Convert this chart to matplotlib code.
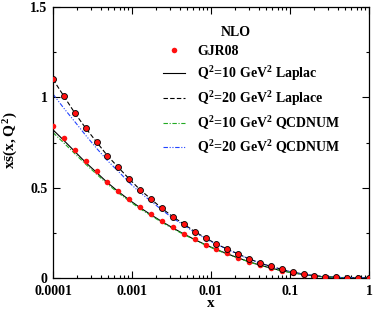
import matplotlib
matplotlib.use("Agg")
import matplotlib.pyplot as plt
from matplotlib.ticker import LogLocator, NullFormatter, MultipleLocator

plt.rcParams['font.family'] = 'Liberation Serif'
plt.rcParams['font.weight'] = 'bold'
plt.rcParams['mathtext.fontset'] = 'custom'
plt.rcParams['mathtext.rm'] = 'Liberation Serif:bold'
plt.rcParams['mathtext.it'] = 'Liberation Serif:bold'
plt.rcParams['mathtext.bf'] = 'Liberation Serif:bold'

x = [1.0e-4, 1.37e-4, 1.89e-4, 2.59e-4, 3.56e-4, 4.89e-4, 6.72e-4, 9.24e-4,
     1.27e-3, 1.74e-3, 2.40e-3, 3.29e-3, 4.52e-3, 6.21e-3, 8.53e-3, 1.17e-2,
     1.61e-2, 2.21e-2, 3.04e-2, 4.18e-2, 5.74e-2, 7.88e-2, 0.108, 0.149,
     0.204, 0.281, 0.386, 0.530, 0.728, 1.0]

gjr08_q20 = [1.100, 1.007, 0.913, 0.830, 0.753, 0.675, 0.612, 0.548, 0.487, 0.437,
             0.385, 0.338, 0.299, 0.256, 0.221, 0.188, 0.160, 0.133, 0.105, 0.083,
             0.064, 0.048, 0.033, 0.021, 0.013, 0.007, 0.004, 0.002, 0.001, 0.000]
gjr08_q10 = [0.841, 0.775, 0.708, 0.648, 0.590, 0.531, 0.482, 0.437, 0.393, 0.354,
             0.315, 0.280, 0.246, 0.216, 0.185, 0.160, 0.138, 0.112, 0.090, 0.072,
             0.055, 0.040, 0.030, 0.019, 0.012, 0.006, 0.003, 0.001, 0.000, 0.000]

laplace_q10 = [0.820, 0.762, 0.700, 0.640, 0.584, 0.528, 0.478, 0.432, 0.389, 0.350,
               0.312, 0.277, 0.244, 0.213, 0.184, 0.158, 0.134, 0.111, 0.090, 0.071,
               0.055, 0.040, 0.029, 0.019, 0.011, 0.006, 0.003, 0.001, 0.000, 0.000]
laplace_q20 = [1.100, 1.007, 0.913, 0.830, 0.753, 0.677, 0.612, 0.548, 0.488, 0.437,
               0.385, 0.339, 0.299, 0.257, 0.222, 0.188, 0.160, 0.133, 0.106, 0.083,
               0.064, 0.048, 0.033, 0.021, 0.013, 0.007, 0.004, 0.002, 0.001, 0.000]
qcdnum_q10 = [0.805, 0.748, 0.688, 0.630, 0.575, 0.520, 0.471, 0.426, 0.383, 0.345,
              0.308, 0.273, 0.241, 0.211, 0.182, 0.156, 0.132, 0.110, 0.089, 0.070,
              0.054, 0.040, 0.028, 0.019, 0.011, 0.006, 0.003, 0.001, 0.000, 0.000]
qcdnum_q20 = [1.018, 0.940, 0.865, 0.790, 0.718, 0.650, 0.590, 0.528, 0.472, 0.425,
              0.376, 0.331, 0.293, 0.252, 0.218, 0.186, 0.158, 0.131, 0.104, 0.082,
              0.063, 0.047, 0.033, 0.021, 0.013, 0.007, 0.004, 0.002, 0.001, 0.000]

xticks = [1e-4, 1e-3, 1e-2, 1e-1, 1]
xtick_labels = ["0.0001", "0.001", "0.01", "0.1", "1"]
yticks = [0, 0.5, 1, 1.5]
ytick_labels = ["0", "0.5", "1", "1.5"]

fig = plt.figure(figsize=(3.74, 3.09), dpi=100)
ax = fig.add_axes([0.1417, 0.1003, 0.845, 0.877])

ax.plot(x, laplace_q10, color='black', lw=0.8, ls='-',
        label=r"$Q^2$=10 GeV$^2$ Laplac")
ax.plot(x, laplace_q20, color='black', lw=0.8, ls=(0, (4, 2)),
        label=r"$Q^2$=20 GeV$^2$ Laplace")
ax.plot(x, qcdnum_q10, color='#22aa22', lw=0.8, ls=(0, (4, 1.5, 1, 1.5)),
        label=r"$Q^2$=10 GeV$^2$ QCDNUM")
ax.plot(x, qcdnum_q20, color='#2244ff', lw=0.8, ls=(0, (4, 1.5, 1, 1.5, 1, 1.5)),
        label=r"$Q^2$=20 GeV$^2$ QCDNUM")
ax.plot(x, gjr08_q10, ls='none', marker='o', ms=4, color='#ff1010',
        mec='#ff1010', mew=0, label='GJR08', zorder=5)
ax.plot(x, gjr08_q20, ls='none', marker='o', ms=4.3, color='#ff1010',
        mec='black', mew=0.6, zorder=5)

ax.set_xscale('log')
ax.set_xlim(1e-4, 1)
ax.set_ylim(0, 1.5)
ax.set_xticks(xticks)
ax.set_xticklabels(xtick_labels)
ax.xaxis.set_minor_locator(LogLocator(base=10, subs=range(2, 10), numticks=20))
ax.xaxis.set_minor_formatter(NullFormatter())
ax.set_yticks(yticks)
ax.set_yticklabels(ytick_labels)
ax.yaxis.set_minor_locator(MultipleLocator(0.25))

ax.tick_params(which='both', direction='in', top=True, right=True,
               labelsize=10, width=0.8)
ax.tick_params(which='major', length=5)
ax.tick_params(axis='x', which='major', pad=5)
ax.tick_params(axis='y', which='major', pad=4)
ax.tick_params(which='minor', length=2.5)
for s in ax.spines.values():
    s.set_linewidth(0.9)

ax.set_xlabel('x', fontsize=11, fontweight='bold')
ax.xaxis.set_label_coords(0.5, -0.07)
ax.set_ylabel(r"$x\bar{s}(x,Q^2)$", fontsize=11)
ax.yaxis.set_label_coords(-0.104, 0.51)

ax.text((236 - 53) / 316, (278 - 32) / 271, 'NLO', transform=ax.transAxes,
        ha='center', va='center', fontsize=10, fontweight='bold')

handles, labels = ax.get_legend_handles_labels()
order = [4, 0, 1, 2, 3]
ax.legend([handles[i] for i in order], [labels[i] for i in order],
          loc='upper left', bbox_to_anchor=((163 - 53) / 316, (278 - 45) / 271),
          frameon=False, fontsize=10,
          handlelength=1.6, handletextpad=0.85, labelspacing=0.45,
          borderpad=0, borderaxespad=0, markerscale=1.0)

fig.savefig('out.png', dpi=100)
